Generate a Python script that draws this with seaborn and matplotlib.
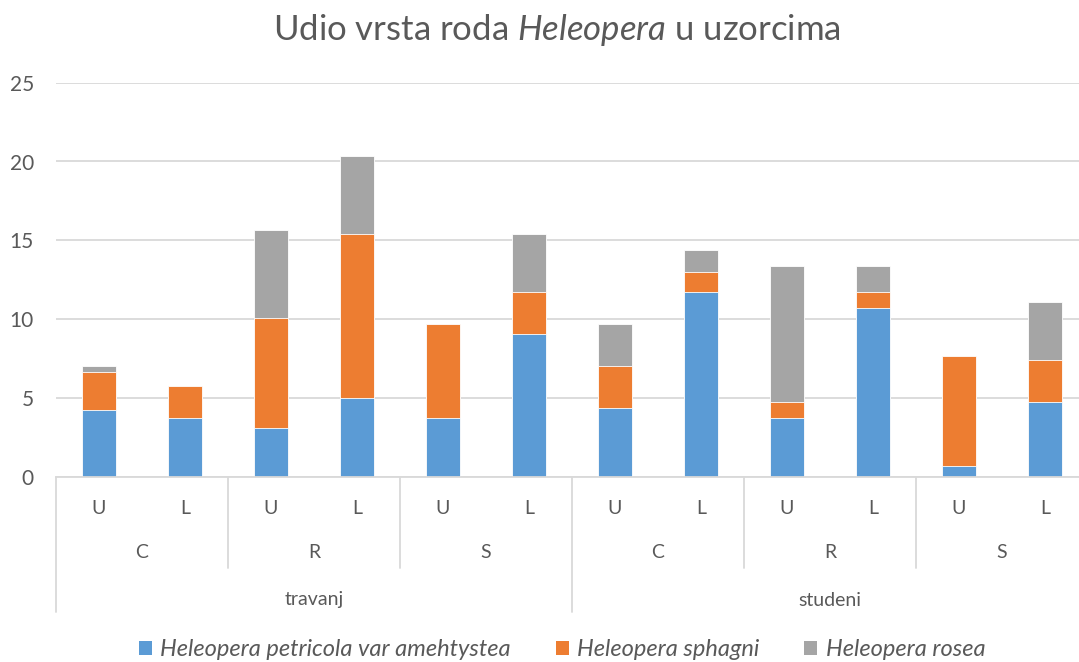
import pandas as pd
import seaborn as sns
import matplotlib.pyplot as plt
from matplotlib.patches import Patch
from matplotlib.transforms import blended_transform_factory

# data
months = ["travanj", "studeni"]
sites = ["C", "R", "S"]
layers = ["U", "L"]
petricola = [4.23, 3.72, 3.09, 4.99, 3.72, 9.05, 4.36, 11.72, 3.72, 10.70, 0.70, 4.74]
sphagni = [2.43, 2.03, 6.98, 10.43, 5.95, 2.67, 2.68, 1.29, 1.02, 1.02, 6.96, 2.66]
rosea = [0.36, 0.00, 5.56, 4.91, 0.00, 3.68, 2.65, 1.37, 8.61, 1.63, 0.00, 3.68]
series = ["Heleopera petricola var amehtystea", "Heleopera sphagni", "Heleopera rosea"]
colors = ["#5B9BD5", "#ED7D31", "#A5A5A5"]

sns.set_style("white")
plt.rcParams['font.family'] = ['Lato', 'DejaVu Sans']
plt.rcParams['mathtext.fontset'] = 'custom'
plt.rcParams['mathtext.rm'] = 'Lato'
plt.rcParams['mathtext.it'] = 'Lato:italic'
txt = "#595959"
grid = "#D9D9D9"

keys = [f"{m} {s} {l}" for m in months for s in sites for l in layers]
df = pd.DataFrame({"key": keys, "p": petricola, "s": sphagni, "r": rosea})
df["c1"] = df["p"]
df["c2"] = df["p"] + df["s"]
df["c3"] = df["c2"] + df["r"]

W, H = 1079, 662
fig = plt.figure(figsize=(W / 100, H / 100), dpi=100)
ax = fig.add_axes([56 / W, 1 - 476.7 / H, 1032 / W, 394 / H])

# stacked bars: draw cumulative totals, tallest first
for col, c in zip(["c3", "c2", "c1"], colors[::-1]):
    sns.barplot(data=df, x="key", y=col, order=keys, color=c, width=0.4,
                saturation=1, edgecolor="white", linewidth=0.6, ax=ax)

ax.set_xlim(-0.5, 11.5)
ax.set_ylim(0, 25)
ax.set_yticks(range(0, 26, 5))
ax.yaxis.grid(True, color=grid, linewidth=1.3)
ax.set_axisbelow(True)
for sp in ["top", "right", "left"]:
    ax.spines[sp].set_visible(False)
ax.spines["bottom"].set_color(grid)
ax.spines["bottom"].set_linewidth(1.3)
ax.set_xticks([])
ax.set_xlabel("")
ax.set_ylabel("")
ax.tick_params(axis="y", length=0, pad=16, labelsize=15, labelcolor=txt)

# multi-level category labels
tr = blended_transform_factory(ax.transData, fig.transFigure)
fy = lambda px: 1 - px / H
for i, k in enumerate(keys):
    ax.text(i, fy(508), layers[i % 2], transform=tr, ha="center", va="center",
            fontsize=14, color=txt)
for j in range(6):
    ax.text(2 * j + 0.5, fy(553), sites[j % 3], transform=tr, ha="center",
            va="center", fontsize=14, color=txt)
for j, m in enumerate(months):
    ax.text(6 * j + 2.5, fy(600), m, transform=tr, ha="center", va="center",
            fontsize=14, color=txt)
for x in [-0.5, 1.5, 3.5, 5.5, 7.5, 9.5, 11.5]:
    bottom = 612 if x in (-0.5, 5.5, 11.5) else 568
    ax.plot([x, x], [fy(476.7), fy(bottom)], transform=tr, color=grid,
            linewidth=1.3, clip_on=False)

fig.text(0.516, fy(30), r"Udio vrsta roda $\it{Heleopera}$ u uzorcima",
         ha="center", va="center", fontsize=25, color=txt)

handles = [Patch(facecolor=c, edgecolor="none") for c in colors]
leg = fig.legend(handles, series, loc="center", bbox_to_anchor=(0.521, fy(650)),
                 ncol=3, frameon=False, handlelength=0.55, handleheight=0.55,
                 handletextpad=0.35, columnspacing=1.9,
                 prop={"size": 17, "style": "italic"})
for t in leg.get_texts():
    t.set_color(txt)

fig.savefig("out.png", dpi=100)
